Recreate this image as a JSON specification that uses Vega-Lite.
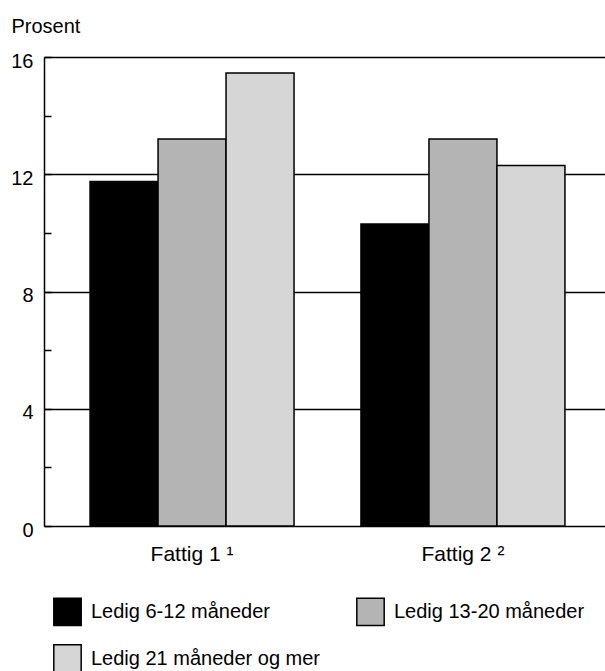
{
  "$schema": "https://vega.github.io/schema/vega-lite/v6.json",
  "autosize": "none",
  "padding": {"left": 44, "top": 57, "right": 0, "bottom": 145},
  "width": 567,
  "height": 469,
  "background": "white",
  "config": {
    "view": {"stroke": null},
    "font": "Liberation Sans, Arial"
  },
  "data": {
    "values": [
      {"gruppe": "Fattig 1 ¹", "serie": "Ledig 6-12 måneder", "prosent": 11.75},
      {"gruppe": "Fattig 1 ¹", "serie": "Ledig 13-20 måneder", "prosent": 13.2},
      {"gruppe": "Fattig 1 ¹", "serie": "Ledig 21 måneder og mer", "prosent": 15.45},
      {"gruppe": "Fattig 2 ²", "serie": "Ledig 6-12 måneder", "prosent": 10.3},
      {"gruppe": "Fattig 2 ²", "serie": "Ledig 13-20 måneder", "prosent": 13.2},
      {"gruppe": "Fattig 2 ²", "serie": "Ledig 21 måneder og mer", "prosent": 12.3}
    ]
  },
  "mark": {"type": "bar", "stroke": "black", "strokeWidth": 1.5},
  "encoding": {
    "x": {
      "field": "gruppe",
      "type": "nominal",
      "sort": null,
      "scale": {"paddingInner": 0.247, "paddingOuter": 0.17},
      "axis": {
        "title": null,
        "labelAngle": 0,
        "domain": false,
        "ticks": false,
        "labelFont": "Liberation Sans, Arial",
        "labelFontSize": 21,
        "labelColor": "black",
        "labelBaseline": "alphabetic",
        "labelPadding": 34
      }
    },
    "xOffset": {
      "field": "serie",
      "type": "nominal",
      "sort": ["Ledig 6-12 måneder", "Ledig 13-20 måneder", "Ledig 21 måneder og mer"],
      "scale": {"paddingInner": 0, "paddingOuter": 0}
    },
    "y": {
      "field": "prosent",
      "type": "quantitative",
      "scale": {"domain": [0, 16], "nice": false},
      "axis": {
        "values": [0, 2, 4, 6, 8, 10, 12, 14, 16],
        "labelExpr": "datum.value % 4 == 0 ? datum.label : ''",
        "grid": true,
        "gridColor": "black",
        "gridWidth": 1.5,
        "gridOpacity": {"condition": {"test": "datum.value % 4 != 0", "value": 0}, "value": 1},
        "domainColor": "black",
        "domainWidth": 1.5,
        "tickColor": "black",
        "tickWidth": 1.5,
        "tickSize": -7,
        "labelFont": "Liberation Sans, Arial",
        "labelFontSize": 20,
        "labelColor": "black",
        "labelPadding": 18,
        "labelOffset": 4,
        "title": "Prosent",
        "titleFont": "Liberation Sans, Arial",
        "titleFontSize": 20,
        "titleFontWeight": "normal",
        "titleColor": "black",
        "titleAngle": 0,
        "titleAlign": "left",
        "titleBaseline": "alphabetic",
        "titleX": -33,
        "titleY": -25
      }
    },
    "color": {
      "field": "serie",
      "type": "nominal",
      "scale": {
        "domain": ["Ledig 6-12 måneder", "Ledig 13-20 måneder", "Ledig 21 måneder og mer"],
        "range": ["#000000", "#b4b4b4", "#d6d6d6"]
      },
      "legend": {
        "title": null,
        "orient": "none",
        "direction": "horizontal",
        "legendX": 9,
        "legendY": 540,
        "columns": 2,
        "columnPadding": 32,
        "rowPadding": 12,
        "symbolType": "square",
        "symbolSize": 750,
        "symbolStrokeColor": "black",
        "symbolStrokeWidth": 1.5,
        "symbolOpacity": 1,
        "labelFont": "Liberation Sans, Arial",
        "labelFontSize": 20,
        "labelColor": "black",
        "labelOffset": 9,
        "labelLimit": 400
      }
    }
  }
}
